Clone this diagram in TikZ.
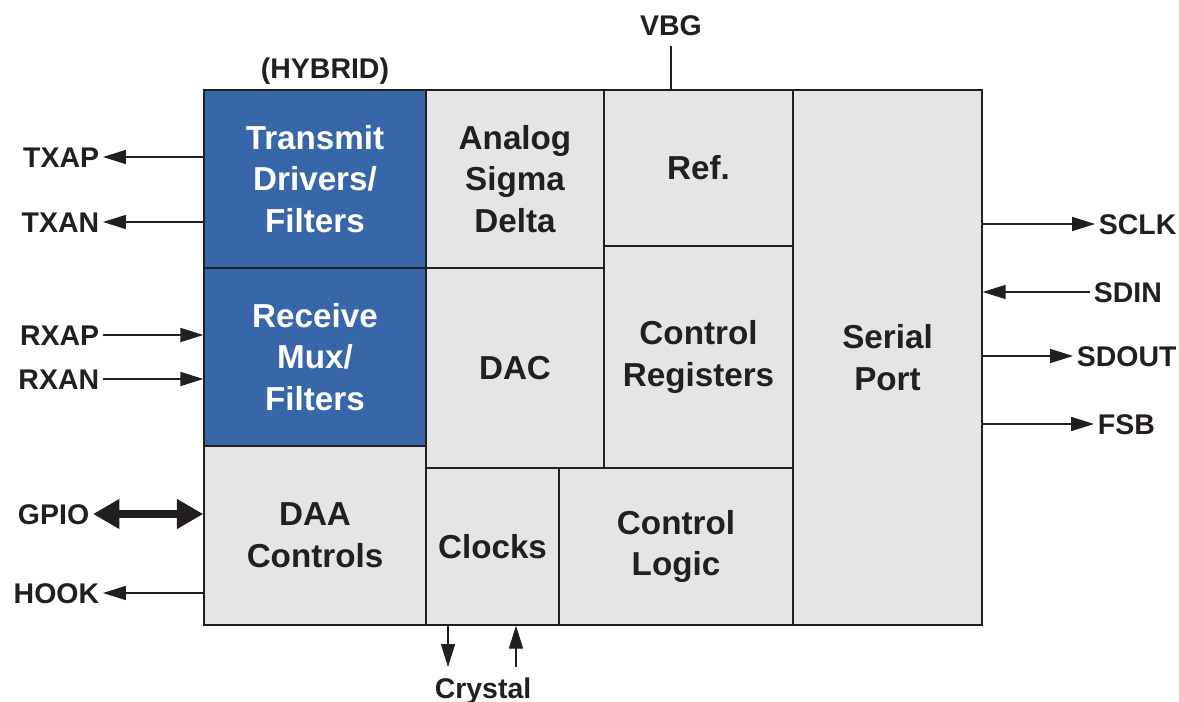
\documentclass[tikz,border=0pt]{standalone}
\usepackage{fontspec}
\setmainfont{Liberation Sans}
\usetikzlibrary{arrows.meta}
\definecolor{chipblue}{HTML}{3767A9}
\definecolor{chipgray}{HTML}{E5E5E5}
\definecolor{ink}{HTML}{231F20}

\begin{document}
\begin{tikzpicture}[x=0.02cm, y=-0.02cm,
  blk/.style={draw=ink, line width=0.8pt, fill=chipgray, inner sep=0pt,
    align=center, text=ink, font=\fontsize{18.9}{23.8}\selectfont\bfseries},
  hyb/.style={blk, fill=chipblue, text=white},
  pin/.style={text=ink, font=\fontsize{16.2}{19}\selectfont\bfseries,
    inner sep=2pt, text height=11.6pt, text depth=0pt},
  sig/.style={draw=ink, line width=0.6pt, -{Triangle[length=13pt,width=8pt]}},
]
\useasboundingbox (0,0) rectangle (1179,702);

% === Chip blocks ===
\node[blk, minimum width=3.78cm, minimum height=10.7cm] (Serial) at (887.5,357.5) {Serial\\Port};
\node[hyb, minimum width=4.44cm, minimum height=3.56cm] (Transmit) at (315,179) {Transmit\\Drivers/\\Filters};
\node[hyb, minimum width=4.44cm, minimum height=3.56cm] (Receive) at (315,357) {Receive\\Mux/\\Filters};
\node[blk, minimum width=4.44cm, minimum height=3.58cm] (DAA) at (315,535.5) {DAA\\Controls};
\node[blk, minimum width=3.56cm, minimum height=3.56cm] (Analog) at (515,179) {Analog\\Sigma\\Delta};
\node[blk, minimum width=3.56cm, minimum height=4.0cm] (DAC) at (515,368) {DAC};
\node[blk, minimum width=3.78cm, minimum height=3.12cm] (Ref) at (698.5,168) {Ref.};
\node[blk, minimum width=3.78cm, minimum height=4.44cm] (Registers) at (698.5,357) {Control\\Registers};
\node[blk, minimum width=2.66cm, minimum height=3.14cm] (Clocks) at (492.5,546.5) {Clocks};
\node[blk, minimum width=4.68cm, minimum height=3.14cm] (Logic) at (676,546.5) {Control\\Logic};

\node[pin] (Hybrid) at (325,68) {(HYBRID)};

% === Left pins ===
\node[pin, anchor=east] (TXAP) at (103,157) {TXAP};
\node[pin, anchor=east] (TXAN) at (103,222) {TXAN};
\node[pin, anchor=east] (RXAP) at (103,335) {RXAP};
\node[pin, anchor=east] (RXAN) at (103,379) {RXAN};
\node[pin, anchor=east] (GPIO) at (93,514) {GPIO};
\node[pin, anchor=east] (HOOK) at (103,593) {HOOK};

\draw[sig] (Transmit.west |- TXAP) -- (TXAP.east);
\draw[sig] (Transmit.west |- TXAN) -- (TXAN.east);
\draw[sig] (RXAP.east) -- (Receive.west |- RXAP);
\draw[sig] (RXAN.east) -- (Receive.west |- RXAN);
\draw[draw=ink, line width=4pt,
  {Triangle[length=15pt,width=16pt]}-{Triangle[length=15pt,width=16pt]}]
  (GPIO.east) -- (DAA.west |- GPIO);
\draw[sig] (DAA.west |- HOOK) -- (HOOK.east);

% === Top and bottom pins ===
\node[pin] (VBG) at (671,25) {VBG};
\draw[draw=ink, line width=0.6pt, shorten >=4pt] (Ref.north -| VBG) -- (VBG.south);

\node[pin] (Crystal) at (483,688) {Crystal};
\coordinate (XtalOut) at (448,667);
\coordinate (XtalIn) at (516,667);
\draw[sig] (Clocks.south -| XtalOut) -- (XtalOut);
\draw[sig] (XtalIn) -- (Clocks.south -| XtalIn);

% === Right pins ===
\node[pin, anchor=west] (SCLK) at (1095,224) {SCLK};
\node[pin, anchor=west] (SDIN) at (1090,292) {SDIN};
\node[pin, anchor=west] (SDOUT) at (1073,356) {SDOUT};
\node[pin, anchor=west] (FSB) at (1094,424) {FSB};

\draw[sig] (Serial.east |- SCLK) -- (SCLK.west);
\draw[sig] (SDIN.west) -- (Serial.east |- SDIN);
\draw[sig] (Serial.east |- SDOUT) -- (SDOUT.west);
\draw[sig] (Serial.east |- FSB) -- (FSB.west);
\end{tikzpicture}
\end{document}
